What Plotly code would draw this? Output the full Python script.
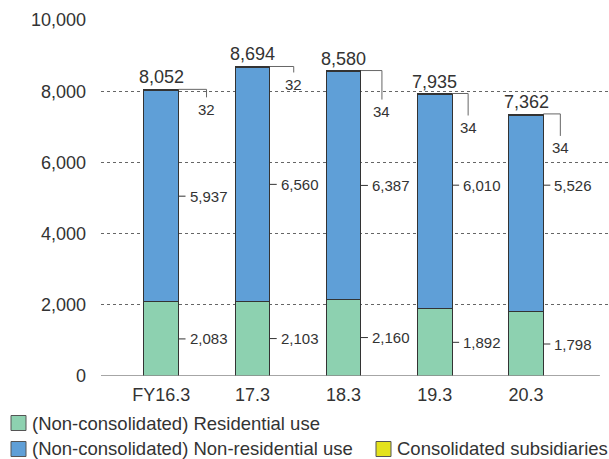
import plotly.graph_objects as go

# Fiscal years on the category axis
years = ["FY16.3", "17.3", "18.3", "19.3", "20.3"]

# Values by segment (stacked bottom to top)
residential = [2083, 2103, 2160, 1892, 1798]
non_residential = [5937, 6560, 6387, 6010, 5526]
subsidiaries = [32, 32, 34, 34, 34]
totals = [8052, 8694, 8580, 7935, 7362]

# Axis ticks
y_ticks = [0, 2000, 4000, 6000, 8000, 10000]

# Styling
GREEN = "#8dd1b0"
BLUE = "#5f9fd7"
YELLOW = "#e4e21c"
EDGE = "#333333"
TEXT = "#333333"
FONT = "Liberation Sans, Arial, sans-serif"
BAR_W = 0.38

# Where the non-residential value labels sit (data units)
nonres_label_y = [5051, 5383, 5353, 5360, 5360]
# Leader for the subsidiaries value: horizontal run and drop, in pixels
leader_run = [28, 24, 21, 16, 17]
leader_drop = [8, 6, 29, 22, 22]

fig = go.Figure()
fig.add_trace(go.Bar(x=years, y=residential, width=BAR_W, name="(Non-consolidated) Residential use",
                     marker=dict(color=GREEN, line=dict(color=EDGE, width=1))))
fig.add_trace(go.Bar(x=years, y=non_residential, width=BAR_W, name="(Non-consolidated) Non-residential use",
                     marker=dict(color=BLUE, line=dict(color=EDGE, width=1))))
fig.add_trace(go.Bar(x=years, y=subsidiaries, width=BAR_W, name="Consolidated subsidiaries",
                     marker=dict(color=YELLOW, line=dict(color=EDGE, width=1))))

shapes = []
annotations = []
half = BAR_W / 2
for i in range(len(years)):
    right = i + half
    # total above the bar
    annotations.append(dict(x=i, y=totals[i], text=f"{totals[i]:,}", showarrow=False,
                            xanchor="center", yanchor="bottom", yshift=0,
                            font=dict(size=18, color=TEXT, family=FONT)))
    # segment labels with short tick
    seg_pos = [residential[i] / 2, nonres_label_y[i]]
    seg_val = [residential[i], non_residential[i]]
    for yv, v in zip(seg_pos, seg_val):
        shapes.append(dict(type="line", xref="x", yref="y", xsizemode="pixel", xanchor=right,
                           x0=0, x1=7, y0=yv, y1=yv, line=dict(color=EDGE, width=1)))
        annotations.append(dict(x=right, y=yv, text=f"{v:,}", showarrow=False, xanchor="left",
                                yanchor="middle", xshift=9,
                                font=dict(size=15, color=TEXT, family=FONT)))
    # leader to the subsidiaries value
    run, drop = leader_run[i], leader_drop[i]
    shapes.append(dict(type="path", xref="x", yref="y", xsizemode="pixel", ysizemode="pixel",
                       xanchor=right, yanchor=totals[i], path=f"M0,0 H{run} V{-drop}",
                       line=dict(color="#666666", width=1)))
    annotations.append(dict(x=right, y=totals[i], text=f"{subsidiaries[i]}", showarrow=False,
                            xanchor="center", yanchor="middle", xshift=run, yshift=-(drop + 12),
                            font=dict(size=15, color=TEXT, family=FONT)))

# baseline
shapes.append(dict(type="line", xref="x", yref="y", x0=-0.66, x1=4.81, y0=0, y1=0,
                   line=dict(color="#888888", width=1.5)))

# legend drawn as swatches + text
PL, PW, PT, PH = 101, 508, 20, 356


def px_x(p):
    return (p - PL) / PW


def px_y(p):
    return (PT + PH - p) / PH


legend_items = [
    ("(Non-consolidated) Residential use", GREEN, 11, 423),
    ("(Non-consolidated) Non-residential use", BLUE, 11, 449),
    ("Consolidated subsidiaries", YELLOW, 376, 449),
]
for label, color, lx, ly in legend_items:
    shapes.append(dict(type="rect", xref="paper", yref="paper",
                       x0=px_x(lx), x1=px_x(lx + 15), y0=px_y(ly - 7.5), y1=px_y(ly + 7.5),
                       fillcolor=color, line=dict(color="#555555", width=1)))
    annotations.append(dict(xref="paper", yref="paper", x=px_x(lx + 20), y=px_y(ly), text=label,
                            showarrow=False, xanchor="left", yanchor="middle", borderpad=0,
                            font=dict(size=18.5, color=TEXT, family=FONT)))

fig.update_layout(
    width=609, height=459,
    margin=dict(l=PL, r=0, t=PT, b=459 - PT - PH),
    barmode="stack",
    plot_bgcolor="white", paper_bgcolor="white",
    showlegend=False,
    shapes=shapes, annotations=annotations,
    font=dict(family=FONT, color=TEXT),
)
fig.update_xaxes(range=[-0.66, 4.91], showgrid=False, showline=False, ticks="",
                 tickfont=dict(size=18, color=TEXT), ticklabelstandoff=6)
fig.update_yaxes(range=[0, 10000], tickvals=y_ticks, tickformat=",", showgrid=True,
                 griddash="dot", gridcolor="#666666", gridwidth=1, zeroline=False,
                 showline=False, ticks="", tickfont=dict(size=18, color=TEXT),
                 ticklabelstandoff=14)

fig.write_html("out.html")
